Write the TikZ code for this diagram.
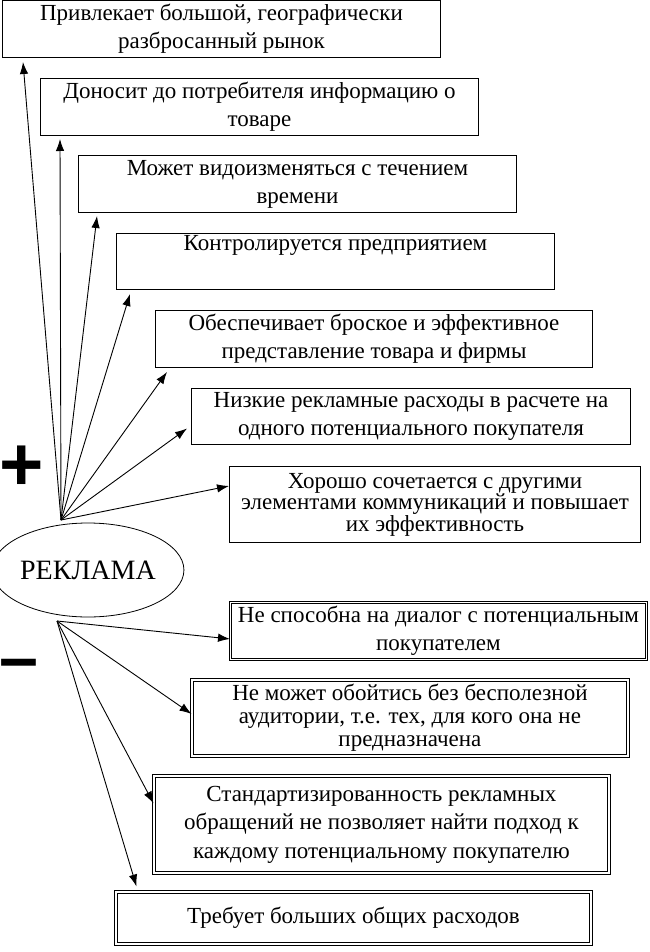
\documentclass[tikz,border=0pt]{standalone}
\usepackage{fontspec}
\setmainfont{Liberation Serif}
\newfontfamily\signfont{Liberation Sans}
\usetikzlibrary{shapes,arrows.meta}

\begin{document}
\begin{tikzpicture}[x=1pt,y=-1pt,
  posbox/.style={draw,rectangle,align=center,anchor=north west,inner sep=1pt,
    line width=1pt,font=\fontsize{23}{28}\selectfont},
  negbox/.style={posbox,double,line width=0.9pt,double distance=1.6pt},
  link/.style={-{Latex[length=12pt,width=8.5pt]},line width=0.9pt}]
\useasboundingbox (0,0) rectangle (649,952);
% plus side
\node[posbox,minimum width=438pt,minimum height=57pt] (b1) at (2,0) {Привлекает большой, географически\\разбросанный рынок};
\node[posbox,minimum width=438pt,minimum height=57pt] (b2) at (40,78) {Доносит до потребителя информацию о\\товаре};
\node[posbox,minimum width=438pt,minimum height=57pt] (b3) at (78,155) {Может видоизменяться с течением\\времени};
\node[posbox,minimum width=438pt,minimum height=56pt] (b4) at (116,233) {Контролируется предприятием\\ \strut};
\node[posbox,minimum width=437pt,minimum height=57pt] (b5) at (155,310) {Обеспечивает броское и эффективное\\представление товара и фирмы};
\node[posbox,minimum width=439pt,minimum height=56pt] (b6) at (191,388) {Низкие рекламные расходы в расчете на\\одного потенциального покупателя};
\node[posbox,minimum width=411pt,minimum height=76pt,font=\fontsize{23}{21.5}\selectfont] (b7) at (229,466) {Хорошо сочетается с другими\\элементами коммуникаций и повышает\\их эффективность};
% minus side
\node[negbox,minimum width=416pt,minimum height=57pt] (b8) at (230,602) {Не способна на диалог с потенциальным\\покупателем};
\node[negbox,minimum width=436pt,minimum height=76pt,font=\fontsize{23}{23}\selectfont] (b9) at (191.5,679.5) {Не может обойтись без бесполезной\\аудитории, т.е. тех, для кого она не\\предназначена};
\node[negbox,minimum width=455pt,minimum height=97pt,font=\fontsize{23}{28.5}\selectfont] (b10) at (153.5,775.5) {Стандартизированность рекламных\\обращений не позволяет найти подход к\\каждому потенциальному покупателю};
\node[negbox,minimum width=475pt,minimum height=52pt] (b11) at (115.5,891.5) {Требует больших общих расходов};
% centre
\node[draw,ellipse,line width=0.8pt,minimum width=170pt,minimum height=94pt,inner sep=0pt,
  font=\fontsize{28}{28}\selectfont] (ad) at (88,570) {РЕКЛАМА};
\node[font=\signfont\bfseries\fontsize{76}{76}\selectfont] (plussign) at (22,468) {+};
\node[font=\signfont\bfseries\fontsize{70}{70}\selectfont] (minussign) at (19,670) {–};
\coordinate (up) at (61,520);
\coordinate (down) at (57,621);
% arrows
\draw[link] (up) -- ([xshift=21pt,yshift=-4pt]b1.south west);
\draw[link] (up) -- ([xshift=20pt,yshift=-3pt]b2.south west);
\draw[link] (up) -- ([xshift=19pt,yshift=-3pt]b3.south west);
\draw[link] (up) -- ([xshift=14pt,yshift=-4pt]b4.south west);
\draw[link] (up) -- ([xshift=12pt,yshift=-4pt]b5.south west);
\draw[link] (up) -- ([xshift=-4pt,yshift=-12pt]b6.west);
\draw[link] (up) -- ([yshift=-20pt]b7.north west);
\draw[link] (down) -- ([yshift=-8pt]b8.west);
\draw[link] (down) -- ([yshift=4pt]b9.west);
\draw[link] (down) -- ([yshift=21pt]b10.west);
\draw[link] (down) -- ([xshift=21pt,yshift=5pt]b11.north west);
\end{tikzpicture}
\end{document}
